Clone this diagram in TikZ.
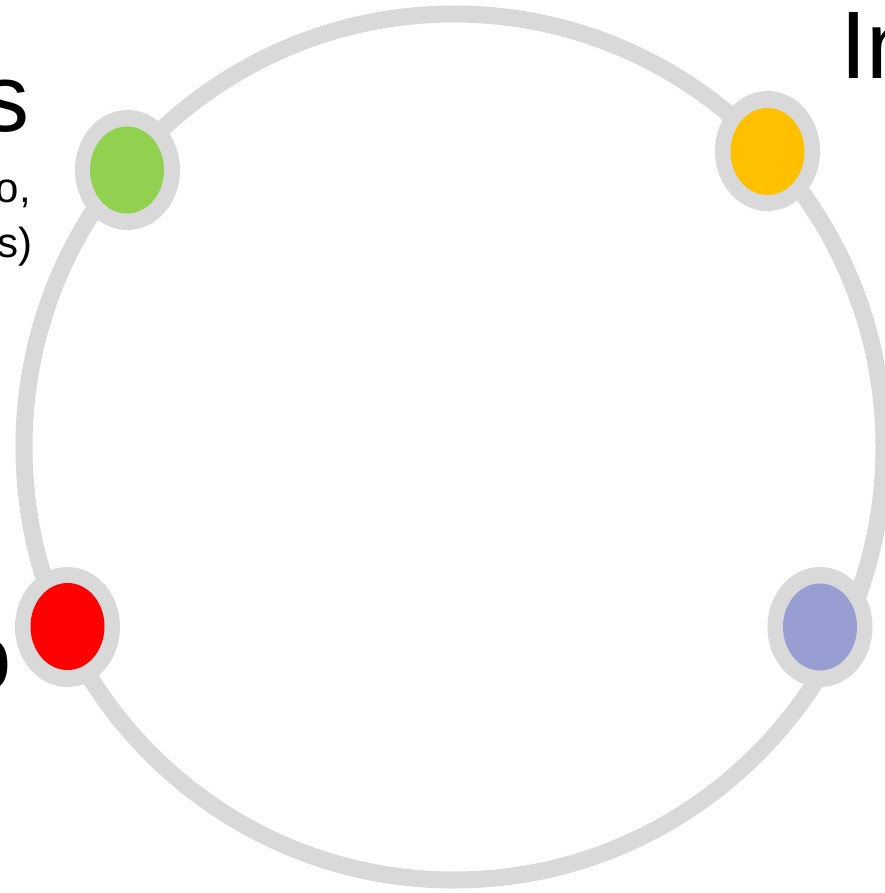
\documentclass[tikz,border=0pt]{standalone}
\usepackage{fontspec}
\setmainfont{Liberation Sans}
\definecolor{ringgray}{HTML}{D9D9D9}
\definecolor{cgreen}{HTML}{92D050}
\definecolor{corange}{HTML}{FFC000}
\definecolor{cred}{HTML}{FF0000}
\definecolor{cblue}{HTML}{989ED2}
\tikzset{
  ring/.style={draw=ringgray, line width=17pt},
  dotouter/.style={ellipse, fill=ringgray, minimum width=105pt, minimum height=120pt, inner sep=0pt},
  dotinner/.style={ellipse, minimum width=74pt, minimum height=87pt, inner sep=0pt},
  bigtxt/.style={inner sep=0pt, text=black, font=\fontsize{96}{110}\selectfont},
  smalltxt/.style={inner sep=0pt, text=black, font=\fontsize{42}{50}\selectfont},
}
\usetikzlibrary{shapes.geometric}
\begin{document}
\begin{tikzpicture}[x=1pt,y=-1pt]
\useasboundingbox (0,0) rectangle (884,893);
\fill[white] (0,0) rectangle (884,893);
\node[ring, ellipse, minimum width=860pt, minimum height=866pt, inner sep=0pt] (ringc) at (454,447) {};
% text
\node[bigtxt, anchor=base east] (ts) at (30,132) {s};
\node[smalltxt, anchor=base east] (to) at (31,203) {o,};
\node[smalltxt, anchor=base east] (tsp) at (33,257) {s)};
\node[bigtxt, anchor=base west] (tin) at (840,79) {In};
\node[bigtxt, anchor=base east] (tob) at (12,690) {o};
% dots
\node[dotouter] (g0) at (127.5,170) {};
\node[dotinner, fill=cgreen] (g) at (127,170) {};
\node[dotouter] (o0) at (767.5,151) {};
\node[dotinner, fill=corange] (o) at (767.5,151.5) {};
\node[dotouter] (r0) at (67.5,627) {};
\node[dotinner, fill=cred] (r) at (67.5,626.5) {};
\node[dotouter] (b0) at (820,627) {};
\node[dotinner, fill=cblue] (b) at (820,627) {};
\end{tikzpicture}
\end{document}
